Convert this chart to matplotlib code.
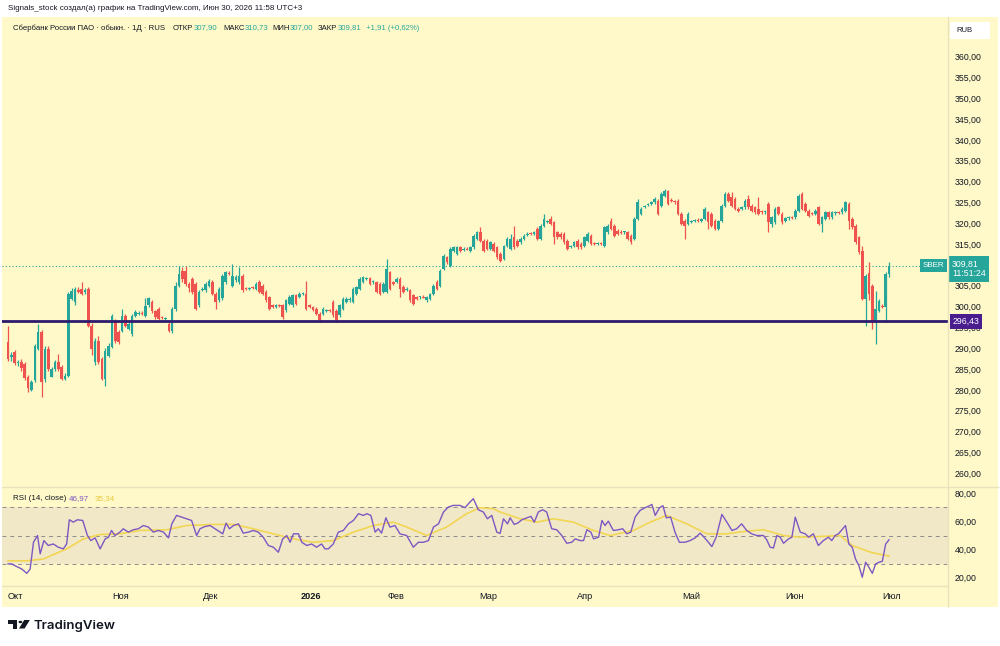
import matplotlib
matplotlib.use('Agg')
import matplotlib.pyplot as plt
from matplotlib.patches import Rectangle, Polygon, Circle
from matplotlib.lines import Line2D
import matplotlib.transforms as mtrans
import numpy as np

plt.rcParams['font.family'] = ['Liberation Sans', 'DejaVu Sans']

# ---------------- data ----------------
open_ = [
291.6, 287.8, 289.2, 286.5, 286.8, 286.3, 283.2, 280.0, 282.3, 289.9,
294.0, 282.7, 289.9, 283.2, 285.1, 286.8, 285.6, 282.7, 283.4, 301.9,
301.0, 304.0, 304.3, 303.5, 304.3, 295.4, 286.8, 291.8, 287.5, 282.7,
288.2, 290.4, 296.4, 294.0, 294.2, 297.8, 294.7, 293.5, 297.8, 298.3,
298.5, 297.8, 300.4, 301.0, 298.9, 299.5, 297.4, 297.0, 295.9, 294.2,
299.5, 305.0, 308.6, 308.6, 305.4,
306.6, 305.5, 300.5, 304.0, 303.9, 305.0, 306.0, 303.1, 301.5, 302.0,
305.9, 308.0, 305.0, 306.4, 305.8, 307.4, 304.5, 304.3, 304.5, 304.3,
305.8, 305.0, 303.5, 302.2, 300.3, 300.0, 300.3, 300.3, 299.1, 300.7,
300.3, 302.7, 302.3, 303.0, 303.1, 300.3, 299.8, 299.5, 298.3, 298.3,
299.0, 299.1, 301.1, 299.0, 297.9, 299.5, 301.1, 301.5, 301.1, 303.1,
304.3, 305.9, 306.6, 306.8, 305.8, 305.8,
305.4, 303.5, 303.5, 308.2, 305.8, 305.9, 306.6, 304.7, 304.0, 303.9,
302.7, 302.3, 302.2, 302.3, 301.5, 301.9, 303.1, 305.9, 305.0, 309.0,
311.8, 309.8, 313.4, 312.6, 314.2, 313.6, 313.9, 313.4, 314.2, 316.2,
317.8, 315.8, 315.8, 313.8, 315.0, 314.2, 312.6, 311.4, 314.6, 313.8,
316.6, 315.8, 315.4, 316.2, 317.3, 317.5, 317.4, 318.6, 316.2, 319.4,
320.4, 321.0, 320.2, 317.8, 317.4, 317.4, 315.8,
314.4, 314.6, 315.8, 315.0, 314.6, 315.8, 317.0, 315.2, 315.0, 315.1,
314.6, 317.8, 320.6, 319.4, 318.2, 317.9, 317.8, 317.8, 317.0, 316.2,
321.0, 322.2, 324.0, 324.4, 324.6, 325.0, 325.4, 324.2, 326.6, 327.8,
325.6, 325.3, 325.4, 322.2, 320.6, 319.8, 320.4, 320.6, 320.8, 320.6,
321.0, 322.6, 322.2, 320.6, 318.6, 320.6, 324.2, 327.0, 326.2, 325.8,
323.4, 323.4, 323.8, 325.8, 324.2, 323.8, 323.4, 322.8,
322.6, 324.6, 319.8, 320.2, 323.8, 322.2, 320.6, 321.2, 321.4, 321.4,
323.0, 327.0, 324.6, 323.0, 322.4, 322.2, 323.8, 319.8, 321.0, 322.6,
321.4, 322.4, 322.6, 322.6, 323.0, 324.6, 321.0, 319.4, 316.6, 313.4,
301.9, 308.0, 305.0, 296.3, 299.0, 300.2, 300.0, 307.9]

high = [
295.4, 289.0, 289.6, 287.3, 287.5, 286.8, 283.5, 282.5, 291.0, 295.9,
294.5, 290.5, 290.5, 285.5, 287.2, 288.7, 286.0, 284.0, 303.5, 304.5,
304.8, 304.6, 305.9, 304.5, 304.6, 296.0, 292.5, 293.0, 288.0, 290.0,
291.2, 298.3, 297.0, 294.5, 299.5, 298.3, 296.3, 298.3, 299.2, 298.9,
299.0, 302.0, 302.4, 301.5, 299.3, 300.0, 297.8, 297.4, 296.3, 300.0,
306.0, 309.8, 309.5, 309.8, 305.8,
307.0, 305.8, 304.0, 304.6, 305.8, 306.6, 306.4, 303.5, 304.7, 307.8,
308.6, 308.5, 310.2, 307.6, 309.4, 307.8, 304.8, 304.8, 304.9, 305.9,
306.4, 305.4, 303.9, 302.6, 300.7, 300.6, 300.7, 300.7, 301.9, 302.7,
303.1, 303.1, 303.5, 303.4, 306.2, 300.7, 300.2, 299.9, 298.7, 299.9,
299.4, 299.5, 301.5, 299.4, 300.7, 302.3, 302.3, 302.2, 304.7, 305.0,
307.0, 307.4, 307.2, 307.2, 306.5, 306.2,
305.8, 305.8, 311.4, 308.6, 306.1, 307.0, 307.0, 305.1, 304.6, 304.3,
303.1, 302.6, 302.6, 302.7, 302.6, 303.3, 305.4, 306.3, 309.0, 312.6,
312.2, 314.2, 314.6, 314.6, 314.6, 314.2, 314.3, 314.6, 317.4, 318.2,
319.1, 316.2, 316.2, 315.8, 315.4, 314.6, 313.0, 314.9, 316.6, 317.4,
319.4, 316.2, 316.6, 317.4, 317.8, 317.9, 318.2, 319.0, 319.8, 322.2,
320.9, 321.8, 320.6, 318.2, 317.8, 317.8, 316.2,
314.8, 315.8, 316.2, 315.4, 317.0, 317.8, 317.4, 315.6, 315.4, 315.5,
319.4, 319.8, 321.2, 319.8, 318.6, 318.3, 318.2, 318.2, 317.4, 321.4,
325.8, 323.8, 324.5, 324.9, 325.4, 326.2, 325.8, 327.4, 328.2, 328.1,
326.0, 325.7, 325.8, 322.6, 321.0, 322.6, 320.8, 321.1, 321.2, 321.3,
323.8, 323.0, 322.6, 321.0, 320.9, 324.6, 327.4, 327.4, 327.4, 326.2,
323.8, 324.1, 325.8, 326.7, 324.6, 324.2, 326.2, 323.2,
323.1, 325.0, 321.8, 323.8, 324.2, 322.6, 321.5, 321.7, 321.8, 323.4,
327.0, 327.4, 325.0, 323.4, 322.8, 323.4, 324.2, 321.8, 323.0, 323.0,
323.0, 322.9, 323.0, 323.8, 325.4, 325.0, 321.4, 319.8, 317.0, 314.6,
307.8, 310.6, 305.4, 303.8, 301.8, 300.6, 308.2, 310.73]

low = [
287.0, 287.0, 286.0, 285.8, 284.5, 282.5, 279.6, 279.8, 282.0, 289.5,
278.4, 282.0, 284.5, 283.0, 284.6, 284.6, 282.3, 282.3, 283.0, 301.5,
300.5, 303.2, 302.8, 303.0, 295.0, 288.5, 286.0, 286.3, 282.3, 281.0,
287.8, 290.0, 291.3, 291.0, 293.8, 295.0, 294.4, 293.0, 297.5, 298.0,
298.1, 297.5, 300.0, 298.5, 297.0, 296.8, 297.0, 296.6, 293.8, 293.6,
299.0, 304.6, 306.0, 305.0, 303.5,
303.0, 299.1, 300.0, 303.7, 303.6, 304.7, 302.8, 299.5, 301.2, 301.7,
305.5, 307.6, 304.7, 306.0, 305.5, 303.5, 304.0, 304.0, 304.2, 304.0,
303.2, 302.7, 301.2, 299.2, 299.7, 299.7, 299.9, 297.0, 298.8, 300.4,
300.0, 300.4, 302.0, 302.7, 299.2, 299.7, 298.9, 298.0, 296.4, 298.0,
298.8, 298.8, 297.5, 296.2, 297.6, 299.2, 300.8, 301.2, 300.8, 302.8,
304.0, 305.6, 306.3, 305.2, 305.5, 303.2,
302.7, 303.2, 303.2, 304.0, 305.2, 305.6, 302.3, 303.2, 303.7, 301.2,
300.4, 301.6, 301.9, 302.0, 301.0, 301.6, 302.8, 304.0, 304.7, 308.7,
310.3, 309.5, 313.1, 312.3, 313.1, 313.3, 313.5, 313.1, 313.9, 315.9,
315.5, 313.1, 313.5, 313.5, 313.1, 311.5, 310.7, 311.1, 314.3, 313.5,
313.9, 314.3, 315.1, 315.9, 317.0, 317.1, 317.1, 315.9, 315.9, 319.1,
320.1, 319.5, 315.0, 316.3, 316.3, 315.1, 313.5,
314.1, 314.3, 313.9, 313.9, 314.3, 315.5, 314.7, 314.8, 314.7, 314.8,
314.3, 317.5, 318.3, 316.7, 317.1, 317.4, 317.5, 315.9, 315.1, 315.9,
320.7, 321.9, 323.7, 324.1, 324.3, 324.7, 321.9, 323.9, 326.3, 324.3,
325.0, 324.7, 321.9, 319.5, 316.2, 319.5, 320.1, 320.3, 320.4, 320.3,
320.7, 318.6, 319.1, 318.3, 318.3, 320.3, 323.9, 325.1, 323.9, 323.1,
322.7, 323.1, 323.5, 323.5, 322.7, 322.3, 321.9, 322.3,
322.3, 317.8, 319.0, 319.9, 321.9, 319.9, 320.3, 320.9, 321.0, 321.1,
322.7, 323.1, 322.7, 321.5, 321.9, 321.9, 319.5, 317.8, 320.7, 321.1,
321.1, 322.1, 322.2, 322.3, 322.7, 318.6, 318.7, 315.1, 312.7, 301.6,
295.4, 301.5, 294.7, 291.1, 298.7, 299.7, 296.4, 307.0]

close = [
287.5, 288.3, 286.5, 286.8, 285.3, 282.9, 280.5, 282.0, 290.6, 294.0,
282.0, 289.9, 285.1, 285.1, 286.8, 285.1, 282.7, 283.4, 303.0, 303.8,
304.3, 303.6, 303.1, 303.9, 295.4, 289.9, 291.8, 286.8, 282.7, 289.4,
290.6, 297.8, 291.8, 291.6, 297.8, 295.4, 295.8, 297.8, 298.8, 298.5,
298.3, 300.2, 302.0, 298.9, 297.5, 297.0, 297.2, 297.0, 294.2, 299.5,
305.0, 307.8, 306.6, 305.4, 304.5,
303.5, 299.5, 303.5, 304.3, 305.5, 306.2, 303.1, 301.1, 304.3, 307.4,
308.2, 307.8, 307.4, 307.2, 307.4, 303.9, 304.3, 304.5, 304.4, 305.5,
303.5, 303.0, 301.5, 299.5, 300.0, 300.3, 300.1, 297.5, 301.5, 302.3,
302.7, 300.7, 303.1, 303.1, 299.5, 300.0, 299.2, 298.3, 296.7, 299.5,
299.1, 299.0, 297.9, 296.7, 300.3, 301.9, 301.9, 301.9, 304.3, 304.7,
306.6, 307.0, 306.9, 305.5, 306.2, 303.5,
303.0, 305.4, 309.0, 304.3, 305.5, 306.7, 304.3, 303.5, 304.3, 301.5,
300.7, 301.9, 302.3, 302.1, 302.3, 303.0, 305.0, 304.3, 308.6, 312.2,
310.6, 313.8, 314.2, 314.2, 313.4, 313.9, 313.7, 314.2, 317.0, 317.8,
315.8, 313.4, 313.8, 315.4, 313.4, 311.8, 311.0, 314.6, 316.2, 316.2,
314.2, 314.6, 316.2, 317.0, 317.5, 317.4, 317.8, 316.2, 319.4, 321.0,
320.6, 319.8, 316.6, 316.6, 316.6, 315.4, 313.8,
314.6, 315.4, 314.2, 314.2, 316.6, 317.4, 315.0, 315.0, 315.1, 315.0,
319.0, 319.4, 318.6, 317.0, 317.4, 317.7, 317.9, 316.2, 315.4, 321.0,
325.0, 323.4, 324.2, 324.6, 325.0, 325.8, 322.2, 327.0, 327.8, 324.6,
325.3, 325.0, 322.2, 319.8, 319.4, 322.2, 320.6, 320.8, 320.6, 321.0,
323.4, 320.2, 319.4, 318.6, 320.6, 324.2, 327.0, 325.4, 324.2, 323.4,
323.0, 323.8, 325.4, 323.8, 323.0, 322.6, 322.2, 322.6,
322.8, 320.2, 321.4, 323.4, 322.2, 320.2, 321.2, 321.4, 321.3, 323.0,
326.6, 323.4, 323.0, 321.8, 322.2, 323.0, 319.8, 321.4, 322.6, 321.4,
322.6, 322.6, 322.5, 323.4, 325.0, 320.6, 319.0, 315.4, 313.0, 301.9,
307.4, 303.0, 296.3, 299.5, 301.4, 300.0, 307.8, 309.81]

level_price = 296.43

rsi_idx = [
0.0, 1.1, 2.6, 4.1, 5.6, 6.6, 7.6, 8.8, 9.6, 10.7, 12.0, 13.5, 15.0, 16.5, 17.5,
18.3, 19.5, 20.7, 22.3, 23.7, 24.7, 26.0, 27.5, 29.0, 30.0, 30.9, 31.9, 33.4,
34.4, 35.9, 37.4, 38.9, 40.4, 41.9, 43.4, 44.9, 46.4, 47.9, 48.9, 50.3, 51.8,
53.3, 54.8, 56.3, 57.3, 58.8, 60.3, 61.8, 63.3, 64.1, 65.1, 66.1, 67.3, 68.8,
70.2, 71.7, 73.2, 74.7, 76.2, 77.7, 79.2, 80.7, 82.0, 83.2, 84.2, 85.2, 86.7,
87.7, 89.2, 90.6, 92.1, 93.6, 94.6, 95.6, 97.1, 98.6, 100.1, 101.6, 103.1,
104.6, 106.1, 107.1, 108.3, 109.6, 110.5, 111.5, 112.8, 114.0, 115.5, 117.0,
119.0, 121.0, 122.5, 124.0, 125.5, 127.0, 128.5, 130.0, 131.4, 132.9, 134.9,
136.4, 137.9, 138.9, 140.4, 141.9, 143.1, 144.4, 145.9, 146.9,
147.9, 149.1, 149.9, 151.1, 152.1, 153.4, 154.9, 156.1, 157.1, 158.3, 159.6,
160.8, 162.3, 163.8, 165.3, 166.8, 168.3, 169.3, 170.8, 171.8, 172.8, 174.0,
174.8, 176.3, 177.3, 178.2, 179.2, 180.7, 182.2, 183.5, 184.7, 185.9, 187.2,
188.7, 190.2, 191.7, 192.2, 193.2, 194.5, 195.5, 196.5, 197.8, 199.1, 200.4,
202.1, 203.6, 205.1, 206.6, 207.6, 208.8, 210.1, 211.4, 213.1, 214.6, 216.1,
217.5, 219.0, 220.5, 222.0, 223.5, 225.5, 226.5, 227.5, 228.5, 229.5, 230.5,
231.5, 233.0, 234.0, 235.0, 236.5, 238.0, 239.0, 240.4, 241.9, 243.4, 244.9,
245.9, 246.9, 247.9, 250.0, 251.0, 252.0, 253.0, 254.0, 255.0, 256.0, 257.0,
258.0, 259.0, 260.0, 261.0, 262.0, 263.0]
rsi_val = [
29.8, 29.8, 27.9, 26.2, 23.1, 26.2, 45.2, 50.0, 37.0, 46.4, 42.9, 44.0, 41.7, 40.5, 44.0,
61.2, 59.5, 61.2, 60.7, 50.0, 46.4, 48.3, 40.5, 47.6, 48.8, 53.6, 50.0, 52.4,
54.8, 52.4, 54.1, 54.8, 57.1, 56.0, 52.4, 53.6, 52.4, 48.3, 58.3, 64.3, 63.1,
61.9, 60.7, 50.0, 54.8, 56.4, 57.1, 54.8, 52.4, 51.2, 58.8, 54.8, 57.1, 58.3,
51.7, 52.4, 53.6, 52.4, 48.8, 42.9, 41.7, 38.1, 47.6, 50.0, 45.2, 51.2, 51.2,
45.2, 42.9, 44.0, 41.7, 44.0, 40.5, 40.5, 44.0, 52.4, 53.6, 58.3, 60.7,
65.5, 64.3, 65.5, 64.3, 52.4, 54.8, 51.7, 62.6, 56.0, 57.1, 51.2,
50.0, 41.7, 45.2, 45.2, 46.4, 56.0, 58.3, 66.7, 70.2, 71.4, 71.4,
69.8, 73.8, 76.2, 68.3, 66.7, 61.9, 64.3, 52.4, 51.5,
61.9, 58.3, 62.6, 57.9, 58.8, 61.2, 62.6, 63.6, 59.5, 66.7, 68.3,
66.7, 54.8, 54.1, 50.0, 44.5, 45.2, 47.6, 46.4, 46.4, 54.1, 52.4,
47.6, 48.8, 60.7, 57.1, 60.2, 53.6, 54.1, 54.8, 51.2, 52.4, 63.1,
67.9, 69.8, 71.4, 72.1, 64.3, 69.8, 71.2, 62.6, 63.1, 52.4, 45.2,
45.2, 46.4, 48.3, 51.7, 49.3, 46.0, 42.1, 48.8, 65.0, 59.5, 53.6,
54.8, 58.3, 53.6, 51.2, 50.0, 50.0, 46.9, 41.7, 41.2, 50.0, 48.8,
44.5, 47.6, 48.8, 63.1, 52.4, 51.2, 48.8, 51.2, 42.9, 46.4, 48.8,
46.4, 50.0, 51.2, 57.1, 44.0, 41.7, 33.3, 28.6, 20.3, 31.0, 27.4,
23.1, 29.8, 31.0, 31.7, 44.0, 46.97]

ma_idx = [0.0, 5.6, 10.5, 17.5, 22.5, 27.5, 33.4, 39.4, 47.4, 53.3, 61.3, 67.3,
          73.2, 79.2, 85.2, 91.1, 97.1, 103.1, 109.1, 115.0, 119.0, 125.0, 130.9,
          136.9, 140.9, 144.9, 146.9, 152.9, 157.8, 162.8, 168.8, 174.8, 179.7,
          186.7, 191.7, 196.6, 202.6, 208.6, 214.6, 220.5, 225.5, 231.5, 236.5,
          242.4, 248.4, 252.0, 257.5, 263.0]
ma_val = [32.0, 32.0, 33.3, 40.5, 47.6, 50.7, 51.2, 53.6, 54.1, 57.1, 57.9, 57.9,
          54.8, 51.2, 47.6, 45.2, 46.4, 52.4, 57.1, 59.5, 56.0, 50.0, 56.0,
          65.5, 69.8, 69.0, 66.7, 61.9, 59.5, 61.9, 59.5, 53.6, 50.0,
          53.6, 59.5, 64.3, 58.3, 51.2, 51.2, 53.1, 54.1, 50.0, 48.8,
          49.3, 50.0, 42.9, 38.1, 35.34]

month_pos = [2.1, 33.7, 60.6, 90.4, 115.8, 143.3, 172.2, 203.9, 234.9, 263.9]
month_labels = ['Окт', 'Ноя', 'Дек', '2026', 'Фев', 'Мар', 'Апр', 'Май', 'Июн', 'Июл']

price_ticks = list(range(260, 361, 5))
rsi_ticks = [20, 40, 60, 80]

# ---------------- style ----------------
W, H = 1000, 646
BG = '#fff9c9'
UP = '#26a69a'
DN = '#ef5350'
TXT = '#131722'
LINE_C = '#2e1a6e'
LBL_C = '#4a1d8f'
RSI_C = '#7e57c2'
MA_C = '#f2d653'
SEP = '#e9e2bd'


def fx(x):
    return x / W


def fy(y):
    return 1 - y / H


def fmt(v):
    return f'{v:.2f}'.replace('.', ',')


fig = plt.figure(figsize=(10, 6.46), dpi=100)
fig.patch.set_facecolor('white')
fig.patches.append(Rectangle((fx(2), fy(607)), fx(996), 590 / H, transform=fig.transFigure,
                             facecolor=BG, edgecolor='none', zorder=-5))

ax = fig.add_axes([fx(2), fy(487), fx(946), 470 / H])
ax2 = fig.add_axes([fx(2), fy(586), fx(946), 99 / H], sharex=ax)
for a in (ax, ax2):
    a.set_facecolor('none')
    a.set_zorder(1)
    for s in a.spines.values():
        s.set_visible(False)

o = np.array(open_)
h = np.array(high)
l = np.array(low)
c = np.array(close)
idx = np.arange(len(c))
cols = np.where(c >= o, UP, DN)

ax.vlines(idx, l, h, colors=cols, lw=0.9, zorder=3)
ax.bar(idx, np.maximum(np.abs(c - o), 0.22), bottom=np.minimum(o, c), width=0.78,
       color=cols, linewidth=0, zorder=4)

ax.axhline(level_price, color=LINE_C, lw=2, zorder=5)
ax.axhline(c[-1], color=UP, lw=0.8, ls=(0, (1, 2)), zorder=2)

ax.set_xlim(-1.8, 280.6)
ax.set_ylim(256.7, 369.5)
ax.yaxis.tick_right()
ax.set_yticks(price_ticks)
# the 310,00 label is fully hidden behind the last-price box in the reference
ax.set_yticklabels(['' if t == 310 else fmt(t) for t in price_ticks])
ax.tick_params(axis='y', length=0, pad=5, labelsize=6.3, labelcolor=TXT)
ax.tick_params(axis='x', bottom=False, labelbottom=False)

trans = mtrans.blended_transform_factory(ax.transAxes, ax.transData)
ax.annotate(fmt(c[-1]) + '\n11:51:24', xy=(1.0, c[-1]), xycoords=trans,
            xytext=(3.0, 4.6), textcoords='offset points', ha='left', va='top',
            fontsize=6.3, color='white', linespacing=1.15, annotation_clip=False,
            bbox=dict(boxstyle='square,pad=0.4', fc=UP, ec='none'), zorder=10)
ax.annotate('SBER', xy=(1.0, c[-1]), xycoords=trans, xytext=(-2.4, 0),
            textcoords='offset points', ha='right', va='center', fontsize=5.8,
            color='white', annotation_clip=False,
            bbox=dict(boxstyle='square,pad=0.35', fc=UP, ec='none'), zorder=10)
ax.annotate(fmt(level_price), xy=(1.0, level_price), xycoords=trans, xytext=(3.2, 0),
            textcoords='offset points', ha='left', va='center', fontsize=6.3,
            color='white', annotation_clip=False,
            bbox=dict(boxstyle='square,pad=0.3', fc=LBL_C, ec='none'), zorder=10)

# RSI pane
ax2.axhspan(30, 70, color=RSI_C, alpha=0.1, lw=0)
for lvl in (70, 50, 30):
    ax2.axhline(lvl, color='#8c8c8c', lw=0.7, ls=(0, (4, 4)))
ax2.plot(ma_idx, ma_val, color=MA_C, lw=1.2)
ax2.plot(rsi_idx, rsi_val, color=RSI_C, lw=1.0)
ax2.set_ylim(14.1, 84.5)
ax2.yaxis.tick_right()
ax2.set_yticks(rsi_ticks)
ax2.set_yticklabels([fmt(t) for t in rsi_ticks])
ax2.tick_params(axis='y', length=0, pad=5, labelsize=6.3, labelcolor=TXT)
ax2.set_xticks(month_pos)
ax2.set_xticklabels(month_labels)
ax2.tick_params(axis='x', length=0, pad=4, labelsize=6.6, labelcolor=TXT)
for lb in ax2.get_xticklabels():
    if lb.get_text() == '2026':
        lb.set_fontweight('bold')

# separators
fig.add_artist(Line2D([fx(2), fx(998)], [fy(487), fy(487)], color=SEP, lw=1))
fig.add_artist(Line2D([fx(2), fx(948)], [fy(586), fy(586)], color=SEP, lw=1))
fig.add_artist(Line2D([fx(948), fx(948)], [fy(17), fy(607)], color=SEP, lw=1))

renderer = fig.canvas.get_renderer()


def chain(x0, y0, parts, size):
    """Write text pieces one after another starting at pixel x0."""
    x = x0
    for t, col in parts:
        tx = fig.text(fx(x), fy(y0), t, fontsize=size, color=col, va='center')
        bb = tx.get_window_extent(renderer)
        x += bb.width


# header texts
fig.text(fx(8), fy(9), 'Signals_stock создал(а) график на TradingView.com, Июн 30, 2026 11:58 UTC+3',
         fontsize=5.8, color=TXT, va='center')
legend_groups = [(12.7, [('Сбербанк России ПАО · обыкн. · 1Д · RUS', TXT)]),
                 (173, [('ОТКР', TXT), ('307,90', UP)]),
                 (223, [('МАКС', TXT), ('310,73', UP)]),
                 (272, [('МИН', TXT), ('307,00', UP)]),
                 (318, [('ЗАКР', TXT), ('309,81', UP)]),
                 (366, [('+1,91 (+0,62%)', UP)])]
for x0, parts in legend_groups:
    chain(x0, 28, parts, 5.6)

fig.text(fx(12.7), fy(499), 'RSI (14, close)', fontsize=5.8, color=TXT, va='center')
fig.text(fx(69), fy(499), '46,97', fontsize=5.8, color=RSI_C, va='center')
fig.text(fx(95), fy(499), '35,34', fontsize=5.8, color='#e8c83a', va='center')

# RUB box
fig.patches.append(Rectangle((fx(950), fy(38.5)), fx(40), 17 / H, transform=fig.transFigure,
                             facecolor='white', edgecolor='none', zorder=3))
fig.text(fx(956), fy(30.5), 'RUB', fontsize=5.5, color=TXT, va='center', zorder=4)

# TradingView logo
fig.patches.append(Polygon([(fx(8), fy(620)), (fx(17), fy(620)), (fx(17), fy(628.5)),
                            (fx(13.3), fy(628.5)), (fx(13.3), fy(623.8)), (fx(8), fy(623.8))],
                           closed=True, transform=fig.transFigure, facecolor='#131722',
                           edgecolor='none'))
fig.patches.append(Circle((fx(20.4), fy(622)), 1.9 / W, transform=fig.transFigure,
                          facecolor='#131722', edgecolor='none'))
fig.patches.append(Polygon([(fx(24.2), fy(620)), (fx(29.8), fy(620)), (fx(24.6), fy(628.5)),
                            (fx(19.0), fy(628.5))], closed=True, transform=fig.transFigure,
                           facecolor='#131722', edgecolor='none'))
fig.text(fx(33), fy(625.5), 'TradingView', fontsize=9.5, fontweight='semibold',
         family=['Inter', 'DejaVu Sans'], color='#131722', va='center')

fig.savefig('out.png', dpi=100, facecolor='white')
